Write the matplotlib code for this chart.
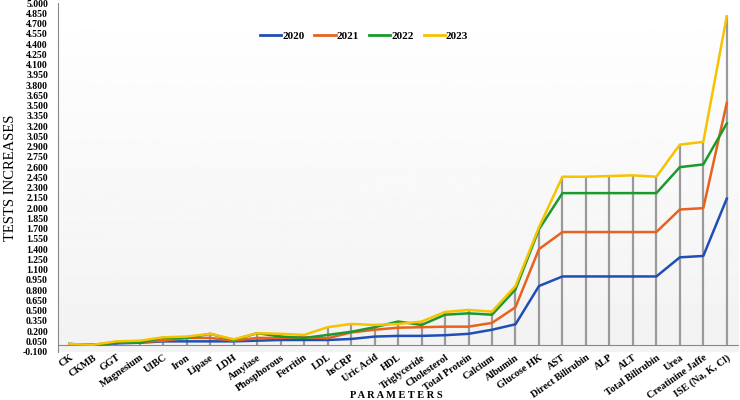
import numpy as np
import matplotlib.pyplot as plt

# categories on the x axis
params = ["CK", "CKMB", "GGT", "Magnesium", "UIBC", "Iron", "Lipase", "LDH",
          "Amylase", "Phosphorous", "Ferritin", "LDL", "hsCRP", "Uric Acid",
          "HDL", "Triglyceride", "Cholesterol", "Total Protein", "Calcium",
          "Albumin", "Glucose HK", "AST", "Direct Bilirubin", "ALP", "ALT",
          "Total Bilirubin", "Urea", "Creatinine Jaffe", "ISE (Na, K, Cl)"]

# values
y2020 = [0.01, 0.00, 0.02, 0.03, 0.05, 0.05, 0.05, 0.05, 0.06, 0.07, 0.07,
         0.07, 0.085, 0.12, 0.13, 0.13, 0.14, 0.16, 0.22, 0.30, 0.86, 1.00,
         1.00, 1.00, 1.00, 1.00, 1.28, 1.30, 2.14]
y2021 = [0.01, 0.00, 0.03, 0.04, 0.06, 0.10, 0.10, 0.06, 0.10, 0.10, 0.11,
         0.096, 0.18, 0.22, 0.25, 0.257, 0.265, 0.265, 0.32, 0.55, 1.40, 1.65,
         1.65, 1.65, 1.65, 1.65, 1.98, 2.00, 3.54]
y2022 = [0.01, 0.00, 0.03, 0.035, 0.10, 0.10, 0.16, 0.07, 0.17, 0.12, 0.10,
         0.144, 0.19, 0.257, 0.34, 0.29, 0.44, 0.46, 0.44, 0.81, 1.69, 2.22,
         2.22, 2.22, 2.22, 2.22, 2.60, 2.64, 3.24]
y2023 = [0.01, 0.00, 0.05, 0.06, 0.11, 0.12, 0.16, 0.08, 0.17, 0.16, 0.144,
         0.257, 0.305, 0.29, 0.305, 0.34, 0.48, 0.51, 0.485, 0.86, 1.72, 2.46,
         2.46, 2.47, 2.48, 2.46, 2.93, 2.97, 4.81]

years = ["2020", "2021", "2022", "2023"]
colors = ["#1f4fb5", "#e8621e", "#1b9a2c", "#f7c200"]

serif = "Liberation Serif"

fig = plt.figure(figsize=(7.4, 4.0), dpi=100)
ax = fig.add_axes([0.078, 0.121, 0.92, 0.871])

x = np.arange(len(params))
series = [y2020, y2021, y2022, y2023]

# white-to-grey background like the original
grad = np.linspace(1.0, 0.95, 256).reshape(-1, 1)
ax.imshow(grad, cmap="gray", vmin=0, vmax=1, aspect="auto",
          extent=[0, 1, 0, 1], transform=ax.transAxes, zorder=0)

# drop lines from the highest point down to the axis
top = np.max(np.array(series), axis=0)
ax.vlines(x, 0, top, color="#9a9a9a", lw=1.6, zorder=1)

for vals, col, lab in zip(series, colors, years):
    ax.plot(x, vals, color=col, lw=1.8, label=lab, zorder=2)

ax.axhline(0, color="#888888", lw=0.8, zorder=1)

ax.set_xlim(-0.5, len(params) - 0.5)
ax.set_ylim(-0.1, 5.0)
yt = np.round(np.arange(-0.1, 5.0001, 0.15), 3)
ax.set_yticks(yt)
ax.set_yticklabels([f"{v:.3f}" for v in yt], fontfamily=serif,
                   fontweight="bold", fontsize=7)
ax.set_xticks(x)
ax.set_xticklabels(params, rotation=35, ha="right", rotation_mode="anchor",
                   fontfamily=serif, fontweight="bold", fontsize=7.3)
ax.tick_params(axis="y", length=0, pad=7)
ax.tick_params(axis="x", length=0, pad=1)

for s in ["top", "right", "bottom"]:
    ax.spines[s].set_visible(False)
ax.spines["left"].set_color("#888888")

ax.set_ylabel("TESTS INCREASES", fontfamily=serif, fontsize=10.5, labelpad=4)
fig.text(0.536, 0.0, "P A R A M E T E R S", fontfamily=serif,
         fontweight="bold", fontsize=7.5, ha="center", va="bottom")

leg = ax.legend(loc="center", bbox_to_anchor=(0.45, 0.905), ncol=4,
                frameon=False, handlelength=1.9, handletextpad=0.1,
                columnspacing=0.9,
                prop={"family": serif, "weight": "bold", "size": 8})
for line in leg.get_lines():
    line.set_linewidth(2)

fig.savefig("out.png", dpi=100)
